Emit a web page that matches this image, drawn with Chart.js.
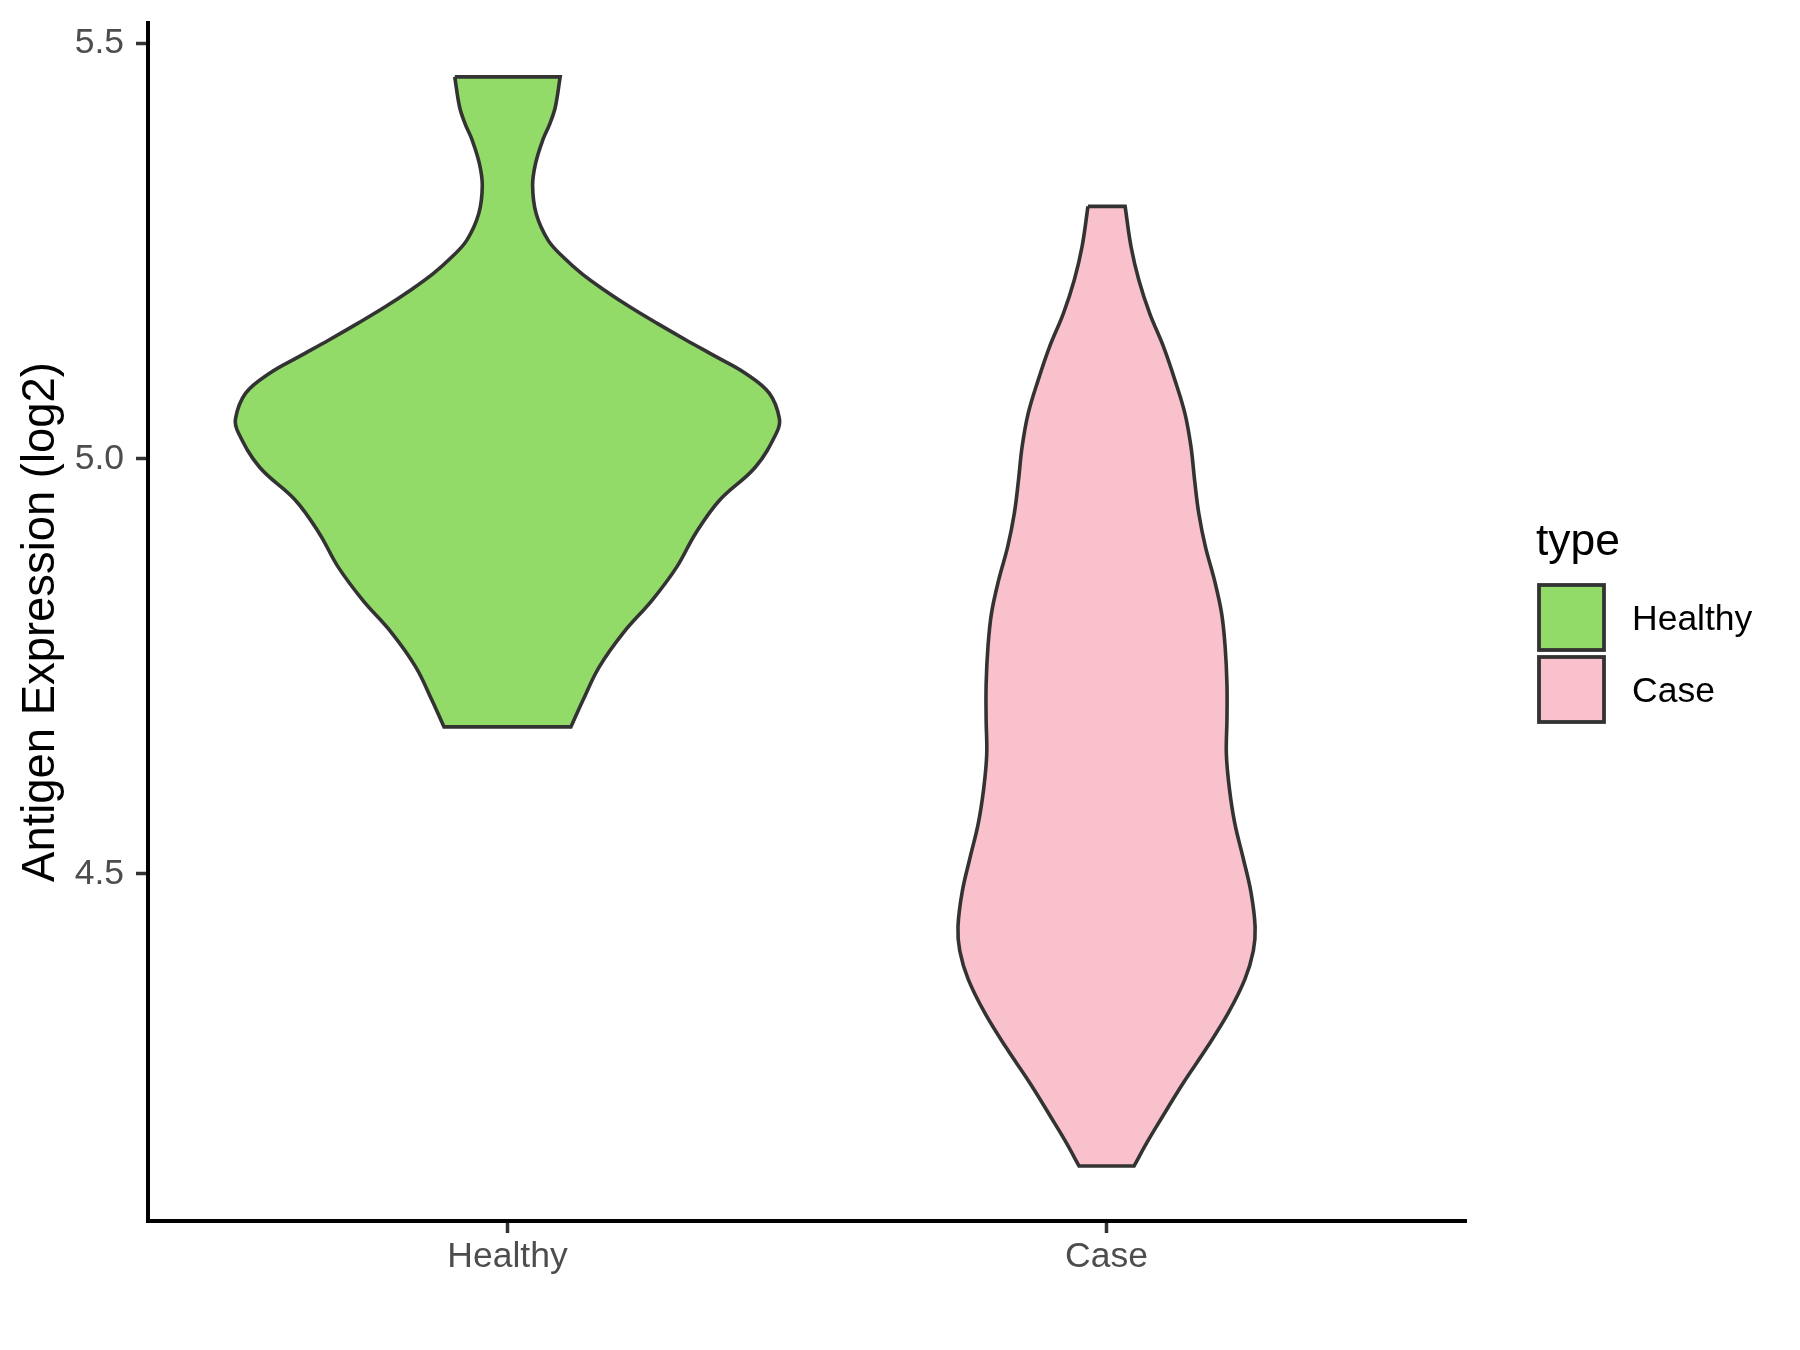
<!DOCTYPE html>
<html>
<head>
<meta charset="utf-8">
<script src="https://cdn.jsdelivr.net/npm/chart.js@4.4.1/dist/chart.umd.min.js"></script>
<style>
  html, body { margin: 0; padding: 0; background: #fff; }
  #wrap { width: 1800px; height: 1350px; position: relative; }
</style>
</head>
<body>
<div id="wrap"><canvas id="myChart"></canvas></div>
<script>
// categories and violin outlines (value, half width in category units)
var categories = ['Healthy', 'Case'];
var fills = ['#93DB69', '#F8C1CB'];

var healthyValues = [5.460, 5.424, 5.404, 5.384, 5.356, 5.329, 5.295, 5.263, 5.243, 5.223, 5.203, 5.183, 5.163, 5.143,
  5.123, 5.103, 5.079, 5.048, 5.031, 4.990, 4.950, 4.910, 4.870, 4.830, 4.790, 4.749, 4.709, 4.677];
var healthyWidths = [0.088, 0.080, 0.071, 0.059, 0.047, 0.042, 0.048, 0.068, 0.093, 0.124, 0.162, 0.204, 0.250, 0.298,
  0.348, 0.397, 0.437, 0.454, 0.449, 0.414, 0.354, 0.314, 0.283, 0.242, 0.193, 0.153, 0.126, 0.106];

var caseValues = [5.304, 5.255, 5.215, 5.175, 5.135, 5.095, 5.054, 5.014, 4.974, 4.934, 4.894, 4.854, 4.814, 4.773,
  4.728, 4.686, 4.644, 4.603, 4.561, 4.519, 4.478, 4.436, 4.407, 4.373, 4.332, 4.290, 4.248, 4.207, 4.177, 4.148];
var caseWidths = [0.031, 0.041, 0.054, 0.072, 0.095, 0.114, 0.131, 0.141, 0.147, 0.154, 0.165, 0.180, 0.192, 0.198,
  0.201, 0.201, 0.200, 0.205, 0.214, 0.228, 0.241, 0.248, 0.245, 0.231, 0.203, 0.167, 0.128, 0.093, 0.068, 0.046];

var yTicks = [4.5, 5.0, 5.5];
var yMin = 4.0817, yMax = 5.5249;

var FONT = "'Liberation Sans', Arial, Helvetica, sans-serif";

// closed outline; end points are doubled so the flat top and bottom stay square
function outline(pos, vals, widths){
  var pts = [];
  var n = vals.length - 1;
  for (var i = 0; i <= n; i++) {
    pts.push({x: pos - widths[i], y: vals[i]});
    if (i === 0 || i === n) pts.push({x: pos - widths[i], y: vals[i]});
  }
  for (var j = n; j >= 0; j--) {
    pts.push({x: pos + widths[j], y: vals[j]});
    if (j === 0 || j === n) pts.push({x: pos + widths[j], y: vals[j]});
  }
  pts.push({x: pos - widths[0], y: vals[0]});
  return pts;
}

function noPad(scale){
  scale.paddingTop = 0;
  scale.paddingBottom = 0;
  scale.paddingLeft = 0;
  scale.paddingRight = 0;
}

var legendPlugin = {
  id: 'typeLegend',
  afterDraw: function(chart){
    var ctx = chart.ctx;
    ctx.save();
    ctx.fillStyle = '#000';
    ctx.font = '44.4px ' + FONT;
    ctx.textBaseline = 'alphabetic';
    ctx.textAlign = 'left';
    ctx.fillText('type', 1536, 555);
    ctx.font = '35.5px ' + FONT;
    chart.data.datasets.forEach(function(ds, i){
      var top = 585 + i * 72;
      ctx.fillStyle = ds.backgroundColor;
      ctx.fillRect(1539, top, 65, 65);
      ctx.lineWidth = 3.8;
      ctx.strokeStyle = '#333333';
      ctx.strokeRect(1539, top, 65, 65);
      ctx.fillStyle = '#000';
      ctx.fillText(ds.label, 1632, top + 32.5 + 12.7);
    });
    ctx.restore();
  }
};

var ctx = document.getElementById('myChart');
var myChart = new Chart(ctx, {
  type: 'line',
  data: {
    datasets: [{
      label: categories[0],
      data: outline(1, healthyValues, healthyWidths),
      backgroundColor: fills[0],
      borderColor: '#333333',
      borderWidth: 3.6,
      fill: 'shape',
      tension: 0.38,
      pointRadius: 0
    }, {
      label: categories[1],
      data: outline(2, caseValues, caseWidths),
      backgroundColor: fills[1],
      borderColor: '#333333',
      borderWidth: 3.6,
      fill: 'shape',
      tension: 0.38,
      pointRadius: 0
    }]
  },
  options: {
    responsive: true,
    maintainAspectRatio: false,
    animation: false,
    layout: { padding: { top: 23, right: 334, left: 0, bottom: 0 } },
    plugins: {
      legend: { display: false },
      tooltip: { enabled: false }
    },
    scales: {
      x: {
        type: 'linear',
        min: 0.4,
        max: 2.6,
        afterBuildTicks: function(scale){
          scale.ticks = categories.map(function(c, i){ return {value: i + 1}; });
        },
        afterFit: function(scale){ scale.height = 129; noPad(scale); },
        ticks: {
          callback: function(v){ return categories[v - 1]; },
          color: '#4D4D4D',
          font: { family: FONT, size: 35.5 },
          padding: 3,
          maxRotation: 0
        },
        grid: { drawOnChartArea: false, tickLength: 12, tickWidth: 3.5, tickColor: '#333333' },
        border: { color: '#000', width: 4 }
      },
      y: {
        type: 'linear',
        min: yMin,
        max: yMax,
        afterBuildTicks: function(scale){
          scale.ticks = yTicks.map(function(v){ return {value: v}; });
        },
        afterFit: function(scale){ scale.width = 148; noPad(scale); },
        ticks: {
          callback: function(v){ return v.toFixed(1); },
          color: '#4D4D4D',
          font: { family: FONT, size: 35.5 },
          padding: 12
        },
        grid: { drawOnChartArea: false, tickLength: 12, tickWidth: 3.5, tickColor: '#333333' },
        border: { color: '#000', width: 4 },
        title: {
          display: true,
          text: 'Antigen Expression (log2)',
          color: '#000',
          font: { family: FONT, size: 45.4 },
          padding: { top: 14, bottom: 0 }
        }
      }
    }
  },
  plugins: [legendPlugin]
});
</script>
</body>
</html>
